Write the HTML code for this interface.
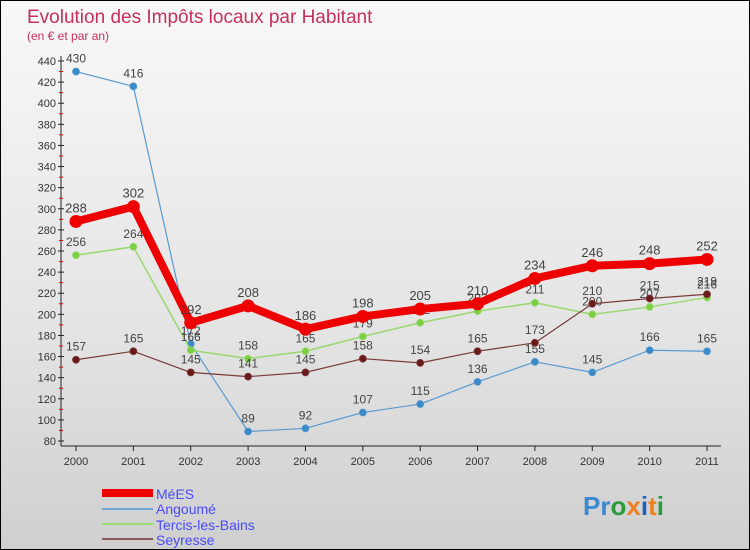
<!DOCTYPE html>
<html><head><meta charset="utf-8"><style>
body{margin:0}
#c{width:748px;height:548px;border:1px solid #000;background:linear-gradient(#f8f8f8,#e4e4e4 60%,#cfcfcf);position:relative;font-family:"Liberation Sans",sans-serif;overflow:hidden}
</style></head><body>
<div id="c">
<svg id="s" width="748" height="548" style="position:absolute;left:0;top:0" font-family="Liberation Sans, sans-serif">
<text x="26" y="22" font-size="19" fill="#c8305a">Evolution des Impôts locaux par Habitant</text>
<text x="26" y="39" font-size="12" fill="#c8305a">(en € et par an)</text>
<g id="axes"></g><g id="series"></g>
<g>
<rect x="101" y="488" width="51" height="8" fill="#e00"/>
<text x="155" y="498" font-size="14" fill="#4a4aff">MéES</text>
<rect x="101" y="507" width="51" height="2" fill="#6fa8d6"/>
<text x="155" y="513" font-size="14" fill="#4a4aff">Angoumé</text>
<rect x="101" y="522" width="51" height="2" fill="#9ad870"/>
<text x="155" y="529" font-size="14" fill="#4a4aff">Tercis-les-Bains</text>
<rect x="101" y="537" width="51" height="2" fill="#8a5a5a"/>
<text x="155" y="544" font-size="14" fill="#4a4aff">Seyresse</text>
</g>
<text x="582" y="514" font-size="26" font-weight="bold"><tspan fill="#3a8ad0">Pr</tspan><tspan fill="#2a9a3a">o</tspan><tspan fill="#f08020">x</tspan><tspan fill="#2060c0">i</tspan><tspan fill="#f08020">t</tspan><tspan fill="#2a9a3a">i</tspan></text>
</svg>
</div>
<script>
const years=["2000","2001","2002","2003","2004","2005","2006","2007","2008","2009","2010","2011"];
const mees=[288,302,192,208,186,198,205,210,234,246,248,252];
const angoume=[430,416,172,89,92,107,115,136,155,145,166,165];
const tercis=[256,264,166,158,165,179,192,203,211,200,207,216];
const seyresse=[157,165,145,141,145,158,154,165,173,210,215,219];
const yTicks=[80,100,120,140,160,180,200,220,240,260,280,300,320,340,360,380,400,420,440];
const NS="http://www.w3.org/2000/svg";
const X=i=>75+i*(706-75)/11;
const Y=v=>440-(v-80)*(380/360);
function mk(t,a,p){const e=document.createElementNS(NS,t);for(const k in a)e.setAttribute(k,a[k]);p.appendChild(e);return e;}
const ax=document.getElementById('axes');
const axl=mk('line',{x1:60,y1:55,x2:60,y2:445,stroke:'#222'},ax);


yTicks.forEach((v,i)=>{
 mk('line',{x1:57,x2:63,y1:Y(v),y2:Y(v),stroke:'#222'},ax);
 if(i<yTicks.length-1)mk('line',{x1:58,x2:62,y1:Y(v+10),y2:Y(v+10),stroke:'#e00'},ax);
 const t=mk('text',{x:55,y:Y(v)+4,'font-size':11,fill:'#333','text-anchor':'end'},ax);
 t.textContent=v;
 
 
});
const xl=mk('line',{x1:60,y1:445,x2:720,y2:445,stroke:'#222'},ax);


years.forEach((y,i)=>{
 mk('line',{x1:X(i),x2:X(i),y1:445,y2:450,stroke:'#222'},ax);
 const t=mk('text',{x:X(i),y:464,'font-size':11,fill:'#333','text-anchor':'middle'},ax);
 t.textContent=y;
 
 
});
const sg=document.getElementById('series');
function draw(name,vals,col,dot,w,r,fs){
 const g=mk('g',{},sg);
 
 
 const pl=mk('polyline',{points:vals.map((v,i)=>X(i)+','+Y(v)).join(' '),fill:'none',stroke:col,'stroke-width':w,'stroke-linejoin':'round'},g);
 
 
 vals.forEach((v,i)=>{
  const c=mk('circle',{cx:X(i),cy:Y(v),r:r,fill:dot,stroke:col==dot?'none':col,'stroke-width':0.8},g);
  
  
  const t=mk('text',{x:X(i),y:Y(v)-9,'font-size':fs,fill:'#444','text-anchor':'middle'},g);
  t.textContent=v;
  
  
 });
}
draw('angoume',angoume,'#5a9ad0','#3a8ac8',1.2,3.5,12);
draw('tercis',tercis,'#9ad870','#7ad040',1.5,3.5,12);
draw('seyresse',seyresse,'#7a3a3a','#6a1a1a',1.2,3.5,12);
draw('mees',mees,'#ee0000','#ee0000',8,6.5,13);
</script>
</body></html>
